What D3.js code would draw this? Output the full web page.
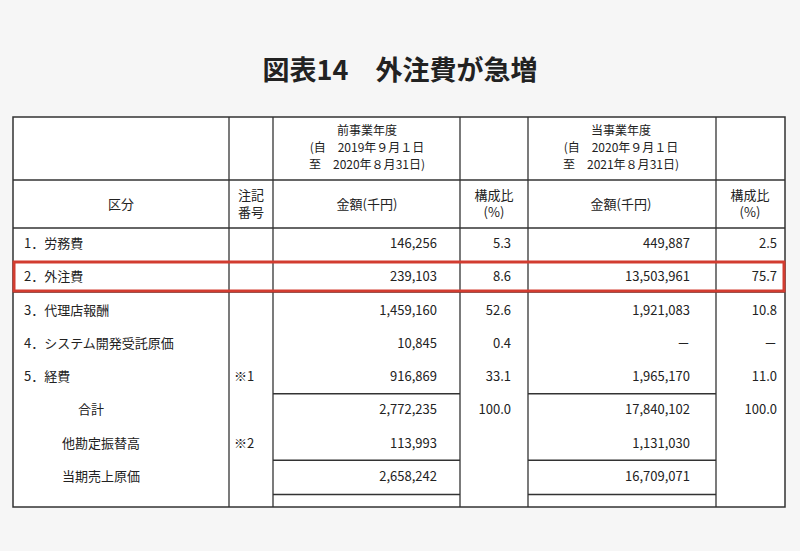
<!DOCTYPE html>
<html><head><meta charset="utf-8">
<script src="https://cdn.jsdelivr.net/npm/d3@7"></script>
<style>body{margin:0;background:#f6f6f6}text{font-family:"Noto Sans CJK JP",sans-serif;fill:#222}</style>
</head><body><svg id="c" width="800" height="551"></svg>
<script>
// table contents
var labels = ["1．労務費","2．外注費","3．代理店報酬","4．システム開発受託原価","5．経費","合計","他勘定振替高","当期売上原価"];
var notes = ["","","","","※1","","※2",""];
var prevAmount = ["146,256","239,103","1,459,160","10,845","916,869","2,772,235","113,993","2,658,242"];
var prevRatio = ["5.3","8.6","52.6","0.4","33.1","100.0","",""];
var currAmount = ["449,887","13,503,961","1,921,083","－","1,965,170","17,840,102","1,131,030","16,709,071"];
var currRatio = ["2.5","75.7","10.8","－","11.0","100.0","",""];
var prevPeriod = ["前事業年度","(自　2019年９月１日","至　2020年８月31日)"];
var currPeriod = ["当事業年度","(自　2020年９月１日","至　2021年８月31日)"];

var svg = d3.select("#c");
var cols = [13,229,273,460,528,716,785];
var tblTop = 117, headBot = 180, subBot = 228, tblBot = 507;

svg.append("text").attr("x",400).attr("y",80).attr("text-anchor","middle")
	.style("font-size","27px").style("font-weight","bold").text("図表14　外注費が急増");

svg.append("rect").attr("x",cols[0]).attr("y",tblTop).attr("width",cols[6]-cols[0]).attr("height",tblBot-tblTop)
	.attr("fill","#fff").attr("stroke","#333").attr("stroke-width",1.5);

var y = d3.scaleBand().domain(d3.range(labels.length)).range([228,494]);

function line(x1,y1,x2,y2){
	svg.append("line").attr("x1",x1).attr("y1",y1).attr("x2",x2).attr("y2",y2)
		.attr("stroke","#333").attr("stroke-width",1.3);
}
cols.slice(1,6).forEach(function(x){ line(x,tblTop,x,tblBot); });
line(cols[0],headBot,cols[6],headBot);
line(cols[0],subBot,cols[6],subBot);
line(cols[0],262,cols[6],262);
line(cols[0],292,cols[6],292);
[y(5)-0.5, y(7)-0.5, y(7)+y.bandwidth()+0.5].forEach(function(yy){
	line(cols[2],yy,cols[3],yy);
	line(cols[4],yy,cols[5],yy);
});

function txt(x,yy,s,anchor,size){
	svg.append("text").attr("x",x).attr("y",yy).attr("text-anchor",anchor||"start")
		.attr("dominant-baseline","middle").style("font-size",(size||13)+"px").text(s);
}
prevPeriod.forEach(function(s,i){ txt(367,132+i*17,s,"middle",12); });
currPeriod.forEach(function(s,i){ txt(621,132+i*17,s,"middle",12); });
txt(121,205,"区分","middle");
txt(251,196,"注記","middle"); txt(251,213,"番号","middle");
txt(367,205,"金額(千円)","middle"); txt(621,205,"金額(千円)","middle");
txt(494,196,"構成比","middle"); txt(494,213,"(%)","middle");
txt(750,196,"構成比","middle"); txt(750,213,"(%)","middle");

labels.forEach(function(s,i){
	var cy = y(i)+y.bandwidth()/2;
	var lx = i<5 ? 24 : (i==5 ? 78 : 62);
	txt(lx,cy,s,"start");
	txt(234,cy,notes[i],"start");
	txt(437,cy,prevAmount[i],"end");
	txt(511,cy,prevRatio[i],"end");
	txt(690,cy,currAmount[i],"end");
	txt(777,cy,currRatio[i],"end");
});

svg.append("rect").attr("x",14).attr("y",262).attr("width",770).attr("height",29)
	.attr("fill","none").attr("stroke","#d23c30").attr("stroke-width",3);
</script></body></html>
